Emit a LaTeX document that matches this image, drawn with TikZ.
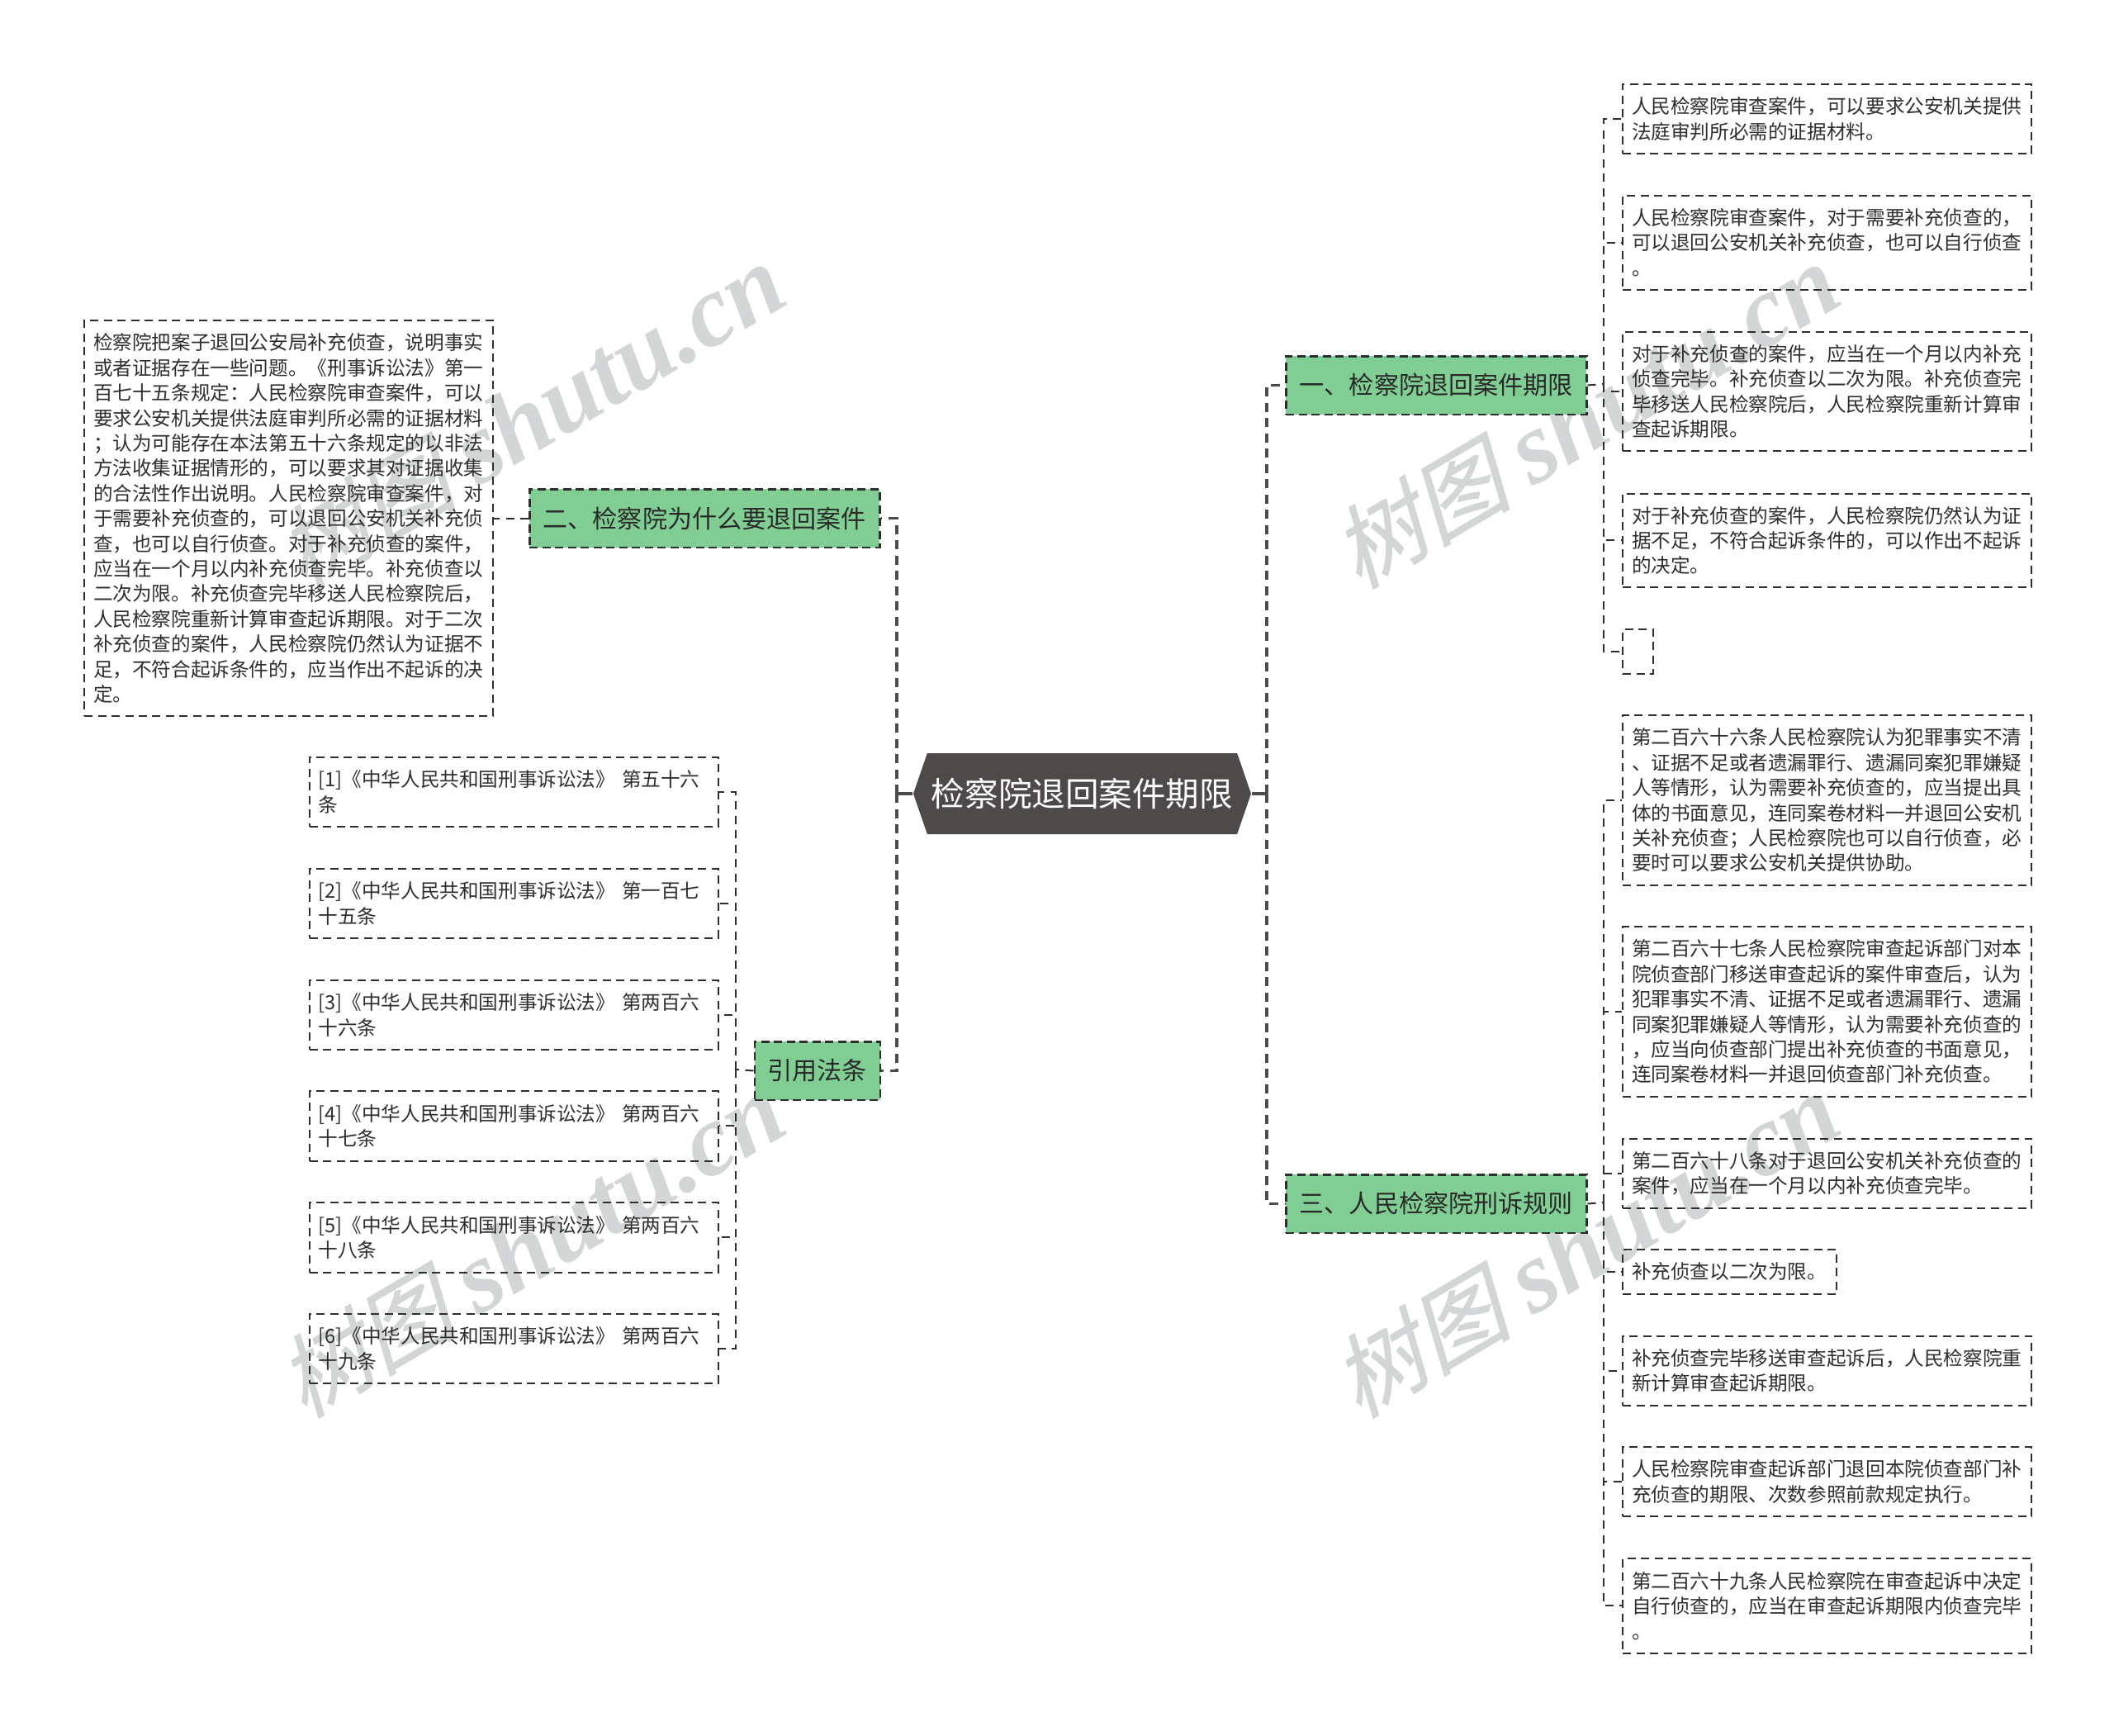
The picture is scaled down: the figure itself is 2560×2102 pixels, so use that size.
\documentclass[tikz,border=0pt]{standalone}
\usepackage{fontspec}
\setmainfont{Noto Sans CJK SC}
\newfontfamily\wmlatin{Liberation Serif}
\newfontfamily\wmcjk[FakeSlant=0.25,FakeBold=1]{Noto Sans CJK SC}
\usetikzlibrary{shapes.symbols}
\definecolor{rootfill}{HTML}{4F4A4A}
\definecolor{secfill}{HTML}{80CE93}
\definecolor{wmgray}{HTML}{D2D6D6}
\definecolor{leafink}{HTML}{2E2E2E}

\tikzset{
    leaf/.style={draw=leafink, line width=0.2mm, dash pattern=on 1mm off 0.65mm, text=leafink,
        anchor=north west, align=left, text width=47.3mm, inner xsep=1.1mm, inner ysep=0pt,
        minimum height=#1, font=\fontsize{6.72}{8.65}\selectfont},
    section/.style={draw=leafink, fill=secfill, line width=0.25mm, dash pattern=on 1mm off 0.55mm,
        text=leafink!90!black, anchor=north west, inner xsep=0pt, inner ysep=0pt,
        minimum width=#1, minimum height=7.05mm, font=\fontsize{8.56}{10}\selectfont},
    rootnode/.style={signal, signal to=east and west, signal pointer angle=142,
        fill=rootfill, text=white, minimum width=40.9mm, minimum height=9.8mm, inner sep=0pt,
        font=\fontsize{11.55}{14}\selectfont},
    wmark/.style={text=wmgray, rotate=30.5, inner sep=0pt, font=\fontsize{35}{40}\selectfont},
    rootlink/.style={draw=rootfill, line width=0.38mm, dash pattern=on 1.1mm off 0.75mm},
    leaflink/.style={draw=leafink, line width=0.2mm, dash pattern=on 1mm off 0.75mm},
}

\begin{document}
\begin{tikzpicture}[x=0.1mm, y=-0.1mm]
    \useasboundingbox (0,0) rectangle (2560,2102);

    % watermark
    \foreach \wx/\wy [count=\wn] in {643/504, 1920/504, 643/1508, 1920/1508}
        \node[wmark] (wm\wn) at (\wx,\wy) {{\wmcjk\fontsize{31}{40}\selectfont 树图} {\wmlatin\bfseries\itshape shutu.cn}};

    \node[rootnode] (root) at (1310.5,961) {检察院退回案件期限};

    % right side
    \node[section=36.4mm] (secA) at (1556,430) {一、检察院退回案件期限};
    \node[section=36.4mm] (secC) at (1556,1421) {三、人民检察院刑诉规则};

    \node[leaf=8.46mm] (a1) at (1964,100.5) {人民检察院审查案件，可以要求公安机关提供\\法庭审判所必需的证据材料。};
    \node[leaf=11.44mm] (a2) at (1964,235.5) {人民检察院审查案件，对于需要补充侦查的，\\可以退回公安机关补充侦查，也可以自行侦查\\。};
    \node[leaf=14.49mm] (a3) at (1964,400.5) {对于补充侦查的案件，应当在一个月以内补充\\侦查完毕。补充侦查以二次为限。补充侦查完\\毕移送人民检察院后，人民检察院重新计算审\\查起诉期限。};
    \node[leaf=11.39mm] (a4) at (1964,596.5) {对于补充侦查的案件，人民检察院仍然认为证\\据不足，不符合起诉条件的，可以作出不起诉\\的决定。};
    \node[leaf=5.4mm, text width=1.5mm] (a5) at (1964,761) {};

    \node[leaf=20.58mm] (c1) at (1964,865) {第二百六十六条人民检察院认为犯罪事实不清\\、证据不足或者遗漏罪行、遗漏同案犯罪嫌疑\\人等情形，认为需要补充侦查的，应当提出具\\体的书面意见，连同案卷材料一并退回公安机\\关补充侦查；人民检察院也可以自行侦查，必\\要时可以要求公安机关提供协助。};
    \node[leaf=20.57mm] (c2) at (1964,1121) {第二百六十七条人民检察院审查起诉部门对本\\院侦查部门移送审查起诉的案件审查后，认为\\犯罪事实不清、证据不足或者遗漏罪行、遗漏\\同案犯罪嫌疑人等情形，认为需要补充侦查的\\，应当向侦查部门提出补充侦查的书面意见，\\连同案卷材料一并退回侦查部门补充侦查。};
    \node[leaf=8.41mm] (c3) at (1964,1377.5) {第二百六十八条对于退回公安机关补充侦查的\\案件，应当在一个月以内补充侦查完毕。};
    \node[leaf=5.38mm, text width=23.7mm] (c4) at (1964,1512) {补充侦查以二次为限。};
    \node[leaf=8.43mm] (c5) at (1964,1616.5) {补充侦查完毕移送审查起诉后，人民检察院重\\新计算审查起诉期限。};
    \node[leaf=8.43mm] (c6) at (1964,1751) {人民检察院审查起诉部门退回本院侦查部门补\\充侦查的期限、次数参照前款规定执行。};
    \node[leaf=11.46mm] (c7) at (1964,1886) {第二百六十九条人民检察院在审查起诉中决定\\自行侦查的，应当在审查起诉期限内侦查完毕\\。};

    % left side
    \node[section=42.4mm] (secB) at (640,591) {二、检察院为什么要退回案件};
    \node[section=15.2mm] (secD) at (912.5,1260) {引用法条};

    \node[leaf=47.93mm] (b1) at (101,387) {检察院把案子退回公安局补充侦查，说明事实\\或者证据存在一些问题。《刑事诉讼法》第一\\百七十五条规定：人民检察院审查案件，可以\\要求公安机关提供法庭审判所必需的证据材料\\；认为可能存在本法第五十六条规定的以非法\\方法收集证据情形的，可以要求其对证据收集\\的合法性作出说明。人民检察院审查案件，对\\于需要补充侦查的，可以退回公安机关补充侦\\查，也可以自行侦查。对于补充侦查的案件，\\应当在一个月以内补充侦查完毕。补充侦查以\\二次为限。补充侦查完毕移送人民检察院后，\\人民检察院重新计算审查起诉期限。对于二次\\补充侦查的案件，人民检察院仍然认为证据不\\足，不符合起诉条件的，应当作出不起诉的决\\定。};

    \foreach \lawno/\lawhead/\lawtail/\lawtop in {1/第五十六/条/915.5, 2/第一百七/十五条/1050.5, 3/第两百六/十六条/1185.5, 4/第两百六/十七条/1320, 5/第两百六/十八条/1455, 6/第两百六/十九条/1589.5}
        \node[leaf=8.47mm] (d\lawno) at (373.5,\lawtop) {[\lawno]《中华人民共和国刑事诉讼法》 \lawhead\\\lawtail};

    % bus lines
    \coordinate (rootR) at (1534,961);
    \coordinate (rootL) at (1086,961);
    \coordinate (busA) at (1942,465);
    \coordinate (busC) at (1942,1456);
    \coordinate (busD) at (891,1295);

    \draw[draw=rootfill, line width=0.38mm] (root.west) -- (rootL);
    \draw[draw=rootfill, line width=0.38mm] (root.east) -- (rootR);
    \foreach \secname in {secA, secC}
        \draw[rootlink] (rootR) |- (\secname.west);
    \foreach \secname in {secB, secD}
        \draw[rootlink] (rootL) |- (\secname.east);

    \draw[leaflink] (secA.east) -- (busA);
    \foreach \leafname in {a1, a2, a3, a4, a5}
        \draw[leaflink] (busA) |- (\leafname.west);
    \draw[leaflink] (secC.east) -- (busC);
    \foreach \leafname in {c1, c2, c3, c4, c5, c6, c7}
        \draw[leaflink] (busC) |- (\leafname.west);
    \draw[leaflink] (secB.west) -- (b1.east |- secB.west);
    \draw[leaflink] (secD.west) -- (busD);
    \foreach \leafname in {d1, d2, d3, d4, d5, d6}
        \draw[leaflink] (busD) |- (\leafname.east);
\end{tikzpicture}
\end{document}
